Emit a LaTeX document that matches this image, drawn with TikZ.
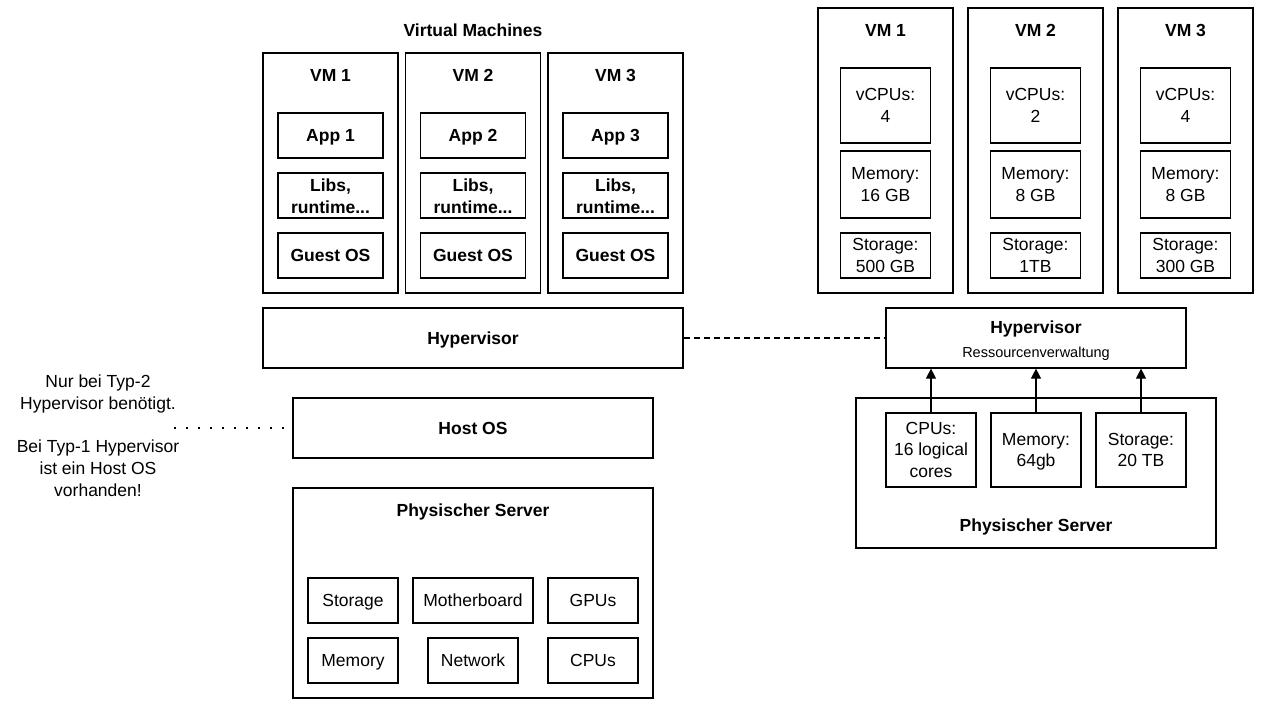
\documentclass[tikz,border=0pt]{standalone}
\usepackage{fontspec}
\setmainfont{Liberation Sans}
\usetikzlibrary{arrows.meta}
\newcommand\bigstrutx{\rule[-4.7pt]{0pt}{21.7pt}}
\begin{document}
\begin{tikzpicture}[x=1pt,y=-1pt,
  every node/.style={font=\fontsize{17.5}{21.7}\selectfont, align=center, inner sep=0pt,
    execute at begin node=\bigstrutx, execute at end node=\bigstrutx},
  box/.style={draw, line width=1.2pt, minimum width=#1, minimum height=45pt},
  box/.default=90pt,
  bf/.style={font=\fontsize{17.5}{21.7}\selectfont\bfseries},
  small/.style={font=\fontsize{14.5}{17.4}\selectfont},
  arr/.style={line width=1.2pt, -{Triangle[length=10pt,width=10pt]}}
]
\useasboundingbox (0,0) rectangle (1262,707);

% ---------- left: virtual machines ----------
\node[bf] (vmtitle) at (473,30) {Virtual Machines};
\foreach \n/\cx in {1/330.5,2/473,3/615.5}{
  \node[box=135pt, minimum height=240pt] (lvm\n) at (\cx,173) {};
  \node[bf] (lvmlabel\n) at (\cx,75) {VM \n};
  \node[box=105pt, bf] (app\n) at (\cx,135.5) {App \n};
  \node[box=105pt] (libs\n) at (\cx,195.5) {};
  \node[bf] (libstext\n) at (\cx,198.5) {Libs,\\runtime...};
  \node[box=105pt, bf] (guest\n) at (\cx,255.5) {Guest OS};
}
\node[box=420pt, minimum height=60pt, bf] (hypL) at (473,338) {Hypervisor};
\node[box=360pt, minimum height=60pt, bf] (host) at (473,428) {Host OS};
\node[box=360pt, minimum height=210pt] (physL) at (473,593) {};
\node[bf] (physLtitle) at (473,510) {Physischer Server};
\node[box] (lstorage) at (353,600.5) {Storage};
\node[box=120pt] (lmobo) at (473,600.5) {Motherboard};
\node[box] (lgpu) at (593,600.5) {GPUs};
\node[box] (lmem) at (353,660.5) {Memory};
\node[box] (lnet) at (473,660.5) {Network};
\node[box] (lcpu) at (593,660.5) {CPUs};

% note on the left
\node (note1) at (98,394.5) {Nur bei Typ-2\\Hypervisor benötigt.};
\node (note2) at (98,470.5) {Bei Typ-1 Hypervisor\\ist ein Host OS\\vorhanden!};
\coordinate (dotstart) at (174,428);
\draw[line width=2pt, dash pattern=on 2pt off 10pt] (dotstart) -- ([xshift=-5pt]host.west);

% ---------- right: resource view ----------
\foreach \n/\cx/\c/\m/\s in {1/885.5/4/16 GB/500 GB, 2/1035.5/2/8 GB/1TB, 3/1185.5/4/8 GB/300 GB}{
  \node[box=135pt, minimum height=285pt] (rvm\n) at (\cx,150.5) {};
  \node[bf] (rvmlabel\n) at (\cx,30) {VM \n};
  \node[box, minimum height=75pt] (vcpu\n) at (\cx,105.5) {};
  \node (vcputext\n) at (\cx,107.7) {vCPUs:\\\c};
  \node[box, minimum height=67pt] (vmem\n) at (\cx,184.5) {};
  \node (vmemtext\n) at (\cx,186.7) {Memory:\\\m};
  \node[box] (vsto\n) at (\cx,255.5) {};
  \node (vstotext\n) at (\cx,257.7) {Storage:\\\s};
}
\node[box=300pt, minimum height=60pt] (hypR) at (1036,338) {};
\node[bf] (hypRtitle) at (1036,327) {Hypervisor};
\node[small] (hypRsub) at (1036,351) {Ressourcenverwaltung};
\node[box=360pt, minimum height=150pt] (physR) at (1036,473) {};
\node[bf] (physRtitle) at (1036,525) {Physischer Server};
\node[box, minimum height=74pt] (rcpu) at (931,450) {};
\node (rcputext) at (931,452.2) {CPUs:\\16 logical\\cores};
\node[box, minimum height=74pt] (rmem) at (1036,450) {};
\node (rmemtext) at (1036,452.2) {Memory:\\64gb};
\node[box, minimum height=74pt] (rsto) at (1141,450) {};
\node (rstotext) at (1141,452.2) {Storage:\\20 TB};

\foreach \b in {rcpu,rmem,rsto}{
  \draw[arr] (\b.north) -- (\b.north |- hypR.south);
}
\draw[line width=1.2pt, dash pattern=on 6pt off 4pt] (hypL.east) -- (hypR.west);
\end{tikzpicture}
\end{document}
